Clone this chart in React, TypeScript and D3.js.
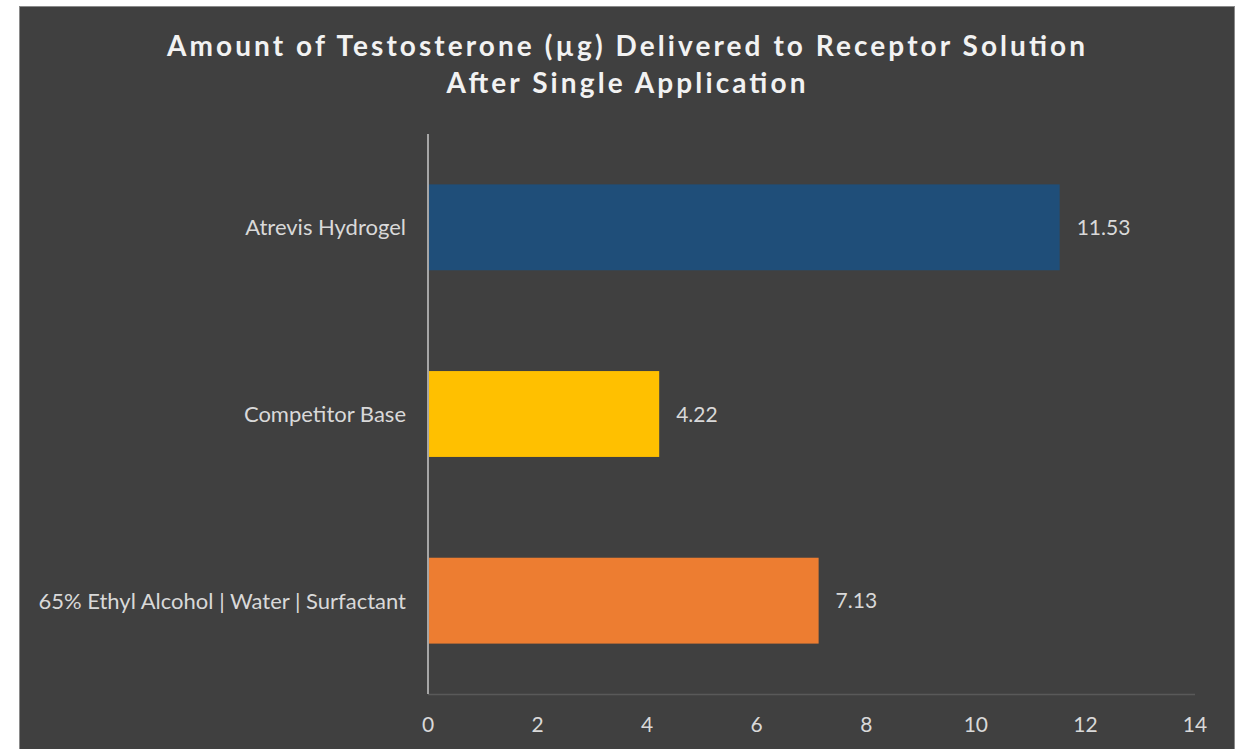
import React, { useEffect, useRef } from "react";
import * as d3 from "d3";

const categories = [
  "Atrevis Hydrogel",
  "Competitor Base",
  "65% Ethyl Alcohol | Water | Surfactant",
];
const values = [11.53, 4.22, 7.13];
const barColors = ["#1f4e79", "#ffc000", "#ed7d31"];
const xTicks = [0, 2, 4, 6, 8, 10, 12, 14];
const titleLines = [
  "Amount of Testosterone (µg) Delivered to Receptor Solution",
  "After Single Application",
];

const width = 1241;
const height = 749;
const font = "Lato, 'Open Sans', sans-serif";

export default function App() {
  const ref = useRef<SVGSVGElement>(null);

  useEffect(() => {
    drawChart();
  }, []);

  function drawChart() {
    const svg = d3.select(ref.current);
    svg.selectAll("*").remove();

    // white page, dark chart panel
    svg.append("rect").attr("width", width).attr("height", height).attr("fill", "#ffffff");
    svg
      .append("rect")
      .attr("x", 19.5)
      .attr("y", 6.5)
      .attr("width", 1215)
      .attr("height", 760)
      .attr("fill", "#404040")
      .attr("stroke", "#8a8a8a")
      .attr("stroke-width", 1);

    const x = d3.scaleLinear().domain([0, 14]).range([428, 1195]);
    const y = d3
      .scaleBand()
      .domain(categories)
      .range([134, 694])
      .paddingInner(0.54)
      .paddingOuter(0.27);

    // title
    const titleWidths = [918, 359];
    svg
      .append("g")
      .selectAll("text")
      .data(titleLines)
      .enter()
      .append("text")
      .attr("x", 626)
      .attr("y", (_, i) => 56 + i * 37)
      .attr("text-anchor", "middle")
      .attr("textLength", (_, i) => titleWidths[i])
      .attr("lengthAdjust", "spacing")
      .style("font-family", font)
      .style("font-size", "28px")
      .style("font-weight", "bold")
      .style("fill", "#f2f2f2")
      .text((d) => d);

    // x axis line (bottom)
    svg
      .append("line")
      .attr("x1", x(0))
      .attr("x2", x(14))
      .attr("y1", 694.5)
      .attr("y2", 694.5)
      .attr("stroke", "#595959")
      .attr("stroke-width", 1.5);

    // bars
    svg
      .append("g")
      .selectAll("rect")
      .data(values)
      .enter()
      .append("rect")
      .attr("x", x(0) + 1)
      .attr("y", (_, i) => y(categories[i])!)
      .attr("width", (d) => x(d) - x(0) - 1)
      .attr("height", y.bandwidth())
      .attr("fill", (_, i) => barColors[i]);

    // y axis line
    svg
      .append("line")
      .attr("x1", x(0))
      .attr("x2", x(0))
      .attr("y1", 134)
      .attr("y2", 694)
      .attr("stroke", "#a6a6a6")
      .attr("stroke-width", 2);

    // value labels
    svg
      .append("g")
      .selectAll("text")
      .data(values)
      .enter()
      .append("text")
      .attr("x", (d) => x(d) + 17)
      .attr("y", (_, i) => y(categories[i])! + y.bandwidth() / 2)
      .attr("dy", "0.36em")
      .style("font-family", font)
      .style("font-size", "21px")
      .style("fill", "#d9d9d9")
      .text((d) => d.toFixed(2));

    // category labels
    svg
      .append("g")
      .selectAll("text")
      .data(categories)
      .enter()
      .append("text")
      .attr("x", 406)
      .attr("y", (d) => y(d)! + y.bandwidth() / 2)
      .attr("dy", "0.36em")
      .attr("text-anchor", "end")
      .style("font-family", font)
      .style("font-size", "22px")
      .style("fill", "#d9d9d9")
      .text((d) => d);

    // tick labels
    svg
      .append("g")
      .selectAll("text")
      .data(xTicks)
      .enter()
      .append("text")
      .attr("x", (d) => x(d))
      .attr("y", 732)
      .attr("text-anchor", "middle")
      .style("font-family", font)
      .style("font-size", "21px")
      .style("fill", "#d9d9d9")
      .text((d) => d);
  }

  return (
    <div style={{ position: "absolute", left: 0, top: 0 }}>
      <svg ref={ref} width={width} height={height} style={{ display: "block" }} />
    </div>
  );
}
